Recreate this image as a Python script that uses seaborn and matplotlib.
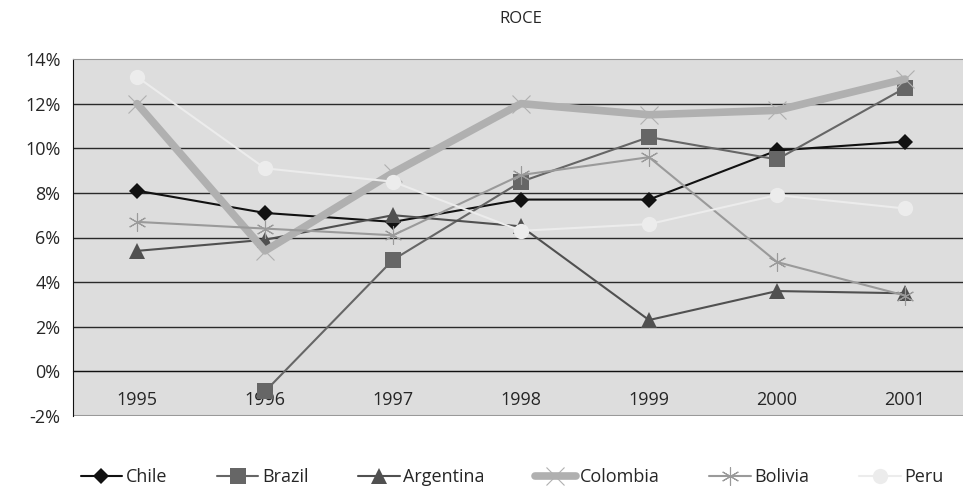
import numpy as np
import pandas as pd
import matplotlib.pyplot as plt
import seaborn as sns

years = ["1995", "1996", "1997", "1998", "1999", "2000", "2001"]
chile = [8.1, 7.1, 6.7, 7.7, 7.7, 9.9, 10.3]
brazil = [np.nan, -0.9, 5.0, 8.5, 10.5, 9.5, 12.7]
argentina = [5.4, 5.9, 7.0, 6.5, 2.3, 3.6, 3.5]
colombia = [12.0, 5.4, 8.9, 12.0, 11.5, 11.7, 13.1]
bolivia = [6.7, 6.4, 6.1, 8.8, 9.6, 4.9, 3.4]
peru = [13.2, 9.1, 8.5, 6.3, 6.6, 7.9, 7.3]

series = {"Chile": chile, "Brazil": brazil, "Argentina": argentina,
          "Colombia": colombia, "Bolivia": bolivia, "Peru": peru}
styles = {
    "Chile":     dict(color="#111111", marker="D", ms=8, lw=1.5, mew=0),
    "Brazil":    dict(color="#666666", marker="s", ms=11, lw=1.5, mew=0),
    "Argentina": dict(color="#505050", marker="^", ms=12, lw=1.5, mew=0),
    "Colombia":  dict(color="#b0b0b0", marker="x", ms=13, lw=5.5, mew=0.8),
    "Bolivia":   dict(color="#9a9a9a", marker=(6, 2, 0), ms=13, lw=1.5, mew=0.8),
    "Peru":      dict(color="#ececec", marker="o", ms=11, lw=1.5, mew=0),
}

rows = []
for name, vals in series.items():
    for i, v in enumerate(vals):
        rows.append({"country": name, "pos": i, "roce": v})
df = pd.DataFrame(rows)

sns.set_style("white")
plt.rcParams['font.family'] = ['Open Sans', 'DejaVu Sans']

fig = plt.figure(figsize=(9.63, 4.91), dpi=100)
ax = fig.add_axes([73/963, 1 - 416/491, 896/963, 357/491])
ax.set_facecolor("#dddddd")

for name in series:
    st = styles[name]
    d = df[df["country"] == name]
    sns.lineplot(data=d, x="pos", y="roce", ax=ax, color=st["color"], lw=st["lw"],
                 marker=st["marker"], markersize=st["ms"], markeredgewidth=st["mew"],
                 markeredgecolor=st["color"], label=name, zorder=3)

ax.spines["bottom"].set_position(("data", 0))
ax.spines["bottom"].set_color("#111111")
ax.set_xlim(-0.5, 6.5)
ax.set_ylim(-2, 14)
ax.set_yticks(range(-2, 15, 2))
ax.set_yticklabels([f"{t}%" for t in range(-2, 15, 2)], fontsize=13)
for t in range(0, 13, 2):
    ax.axhline(t, color="#2a2a2a", lw=1, zorder=1)

ax.set_xticks(range(len(years)))
ax.set_xticklabels(years, fontsize=13)
ax.set_xticks(np.arange(0.5, 6, 1), minor=True)
ax.tick_params(axis="x", which="major", length=0, pad=14, labelsize=13)
ax.tick_params(axis="x", which="minor", length=5, direction="out", color="#111111")
ax.tick_params(axis="y", length=5, direction="out", color="#111111", pad=4)
ax.spines["left"].set_color("#111111")
ax.spines["top"].set_color("#999999")
ax.spines["right"].set_visible(False)
ax.axhline(-2, color="#999999", lw=1.5, zorder=1)
ax.set_xlabel("")
ax.set_ylabel("")
ax.set_title("ROCE", fontsize=12, pad=26)

ax.legend(loc="upper center", bbox_to_anchor=(0.49, -0.1), ncol=6, frameon=False,
          fontsize=13, handlelength=2.3, columnspacing=2.75, handletextpad=0.2)

fig.savefig("out.png", dpi=100)
